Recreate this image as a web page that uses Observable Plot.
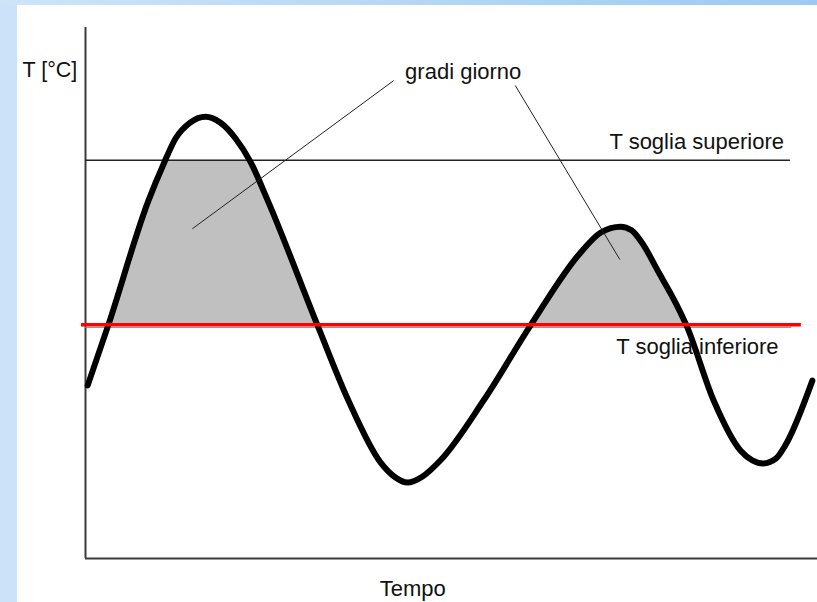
<!DOCTYPE html>
<html><head><meta charset="utf-8">
<script src="https://cdn.jsdelivr.net/npm/d3@7"></script>
<script src="https://cdn.jsdelivr.net/npm/@observablehq/plot@0.6"></script>
<style>
html,body{margin:0;padding:0;}
body{width:817px;height:602px;background:#cce2f8;position:relative;overflow:hidden;}
#top{position:absolute;left:0;top:0;width:817px;height:5px;background:linear-gradient(to right,#cfe4f8,#9ccaf2);}
#panel{position:absolute;left:17px;top:5px;width:800px;height:597px;background:#fff;}
</style></head><body><div id="top"></div><div id="panel"></div>
<script>
// Andamento della temperatura nel tempo (unità arbitrarie)
const tempo = [0.3, 3.1, 8.6, 10.7, 12.3, 14.3, 16.4, 18.4, 20.5, 22.5, 24.9, 31.7, 35.9, 40.3, 42.3, 44.0, 46.0, 48.5, 54.4, 60.8, 67.5, 70.4, 73.1, 74.6, 76.0, 78.3, 80.6, 82.1, 85.8, 89.5, 91.1, 92.6, 94.3, 95.6, 99.3];
const temperatura = [32.6, 43.9, 67.4, 74.4, 79.1, 82.1, 83.2, 82.1, 79.1, 74.8, 67.4, 43.9, 29.8, 18.1, 15.3, 14.3, 15.4, 18.5, 29.8, 43.9, 57.4, 61.4, 62.5, 61.8, 59.5, 53.9, 48.2, 43.9, 29.8, 20.3, 18.5, 17.9, 18.8, 21.3, 33.5];

// Soglie
const sogliaSuperiore = 75;
const sogliaInferiore = 44;

// Etichette
const etichetteAsse = ["T [°C]"];
const etichetteAsseX = [-8.6];
const etichetteAsseY = [91.9];
const etichette = ["gradi giorno", "T soglia superiore", "T soglia inferiore", "Tempo"];
const etichetteX = [51.6, 83.5, 83.6, 44.7];
const etichetteY = [91.7, 78.5, 39.9, -5.7];

// Linee di richiamo "gradi giorno"
const richiamoX1 = [42.1, 58.7];
const richiamoY1 = [90.0, 89.1];
const richiamoX2 = [14.6, 73.0];
const richiamoY2 = [62.1, 56.3];

const serie = tempo.map((t, i) => ({t, T: temperatura[i]}));
const labelsAsse = etichetteAsse.map((s, i) => ({s, x: etichetteAsseX[i], y: etichetteAsseY[i]}));
const labels = etichette.map((s, i) => ({s, x: etichetteX[i], y: etichetteY[i]}));
const richiami = richiamoX1.map((x1, i) => ({x1, y1: richiamoY1[i], x2: richiamoX2[i], y2: richiamoY2[i]}));

const font = "'Liberation Sans', Arial, sans-serif";

const chart = Plot.plot({
  width: 800,
  height: 597,
  marginLeft: 68,
  marginRight: 0,
  marginTop: 22,
  marginBottom: 44,
  x: {domain: [0, 100], axis: null},
  y: {domain: [0, 100], axis: null},
  style: {fontFamily: font, fontSize: "22px", background: "transparent", overflow: "visible"},
  marks: [
    Plot.areaY(serie, {x: "t", y1: sogliaInferiore, y2: "T", curve: "monotone-x", fill: "#c0c0c0"}),
    Plot.ruleX([0], {y1: 0, y2: 100, stroke: "#3a3a3a", strokeWidth: 2}),
    Plot.ruleY([0], {x1: 0, x2: 100, stroke: "#3a3a3a", strokeWidth: 2}),
    Plot.ruleY([sogliaSuperiore], {x1: 0, x2: 96.3, stroke: "#222", strokeWidth: 1.6}),
    Plot.ruleY([sogliaInferiore], {x1: 0, x2: 96.5, stroke: "#888", strokeWidth: 1, dy: 2.5}),
    Plot.text(labelsAsse, {x: "x", y: "y", text: "s", textAnchor: "start", fontSize: 21.5, fill: "#111"}),
    Plot.text(labels, {x: "x", y: "y", text: "s", textAnchor: "middle", fontSize: 22, fill: "#111"}),
    Plot.line(serie, {x: "t", y: "T", curve: "monotone-x", stroke: "#000", strokeWidth: 6, strokeLinejoin: "round"}),
    Plot.ruleY([sogliaInferiore], {x1: -0.55, x2: 97.8, stroke: "#ff0000", strokeWidth: 3.5}),
    Plot.link(richiami, {x1: "x1", y1: "y1", x2: "x2", y2: "y2", stroke: "#222", strokeWidth: 1})
  ]
});

// ritaglia l'area tra le due soglie
const ys = chart.scale("y");
const yTop = ys.apply(sogliaSuperiore), yBot = ys.apply(sogliaInferiore);
const svg = d3.select(chart);
svg.append("defs").append("clipPath").attr("id", "fascia")
  .append("rect").attr("x", 0).attr("width", 800)
  .attr("y", yTop).attr("height", yBot - yTop);
svg.select("g[aria-label='area']").attr("clip-path", "url(#fascia)");

document.getElementById("panel").appendChild(chart);
</script>
</body></html>
